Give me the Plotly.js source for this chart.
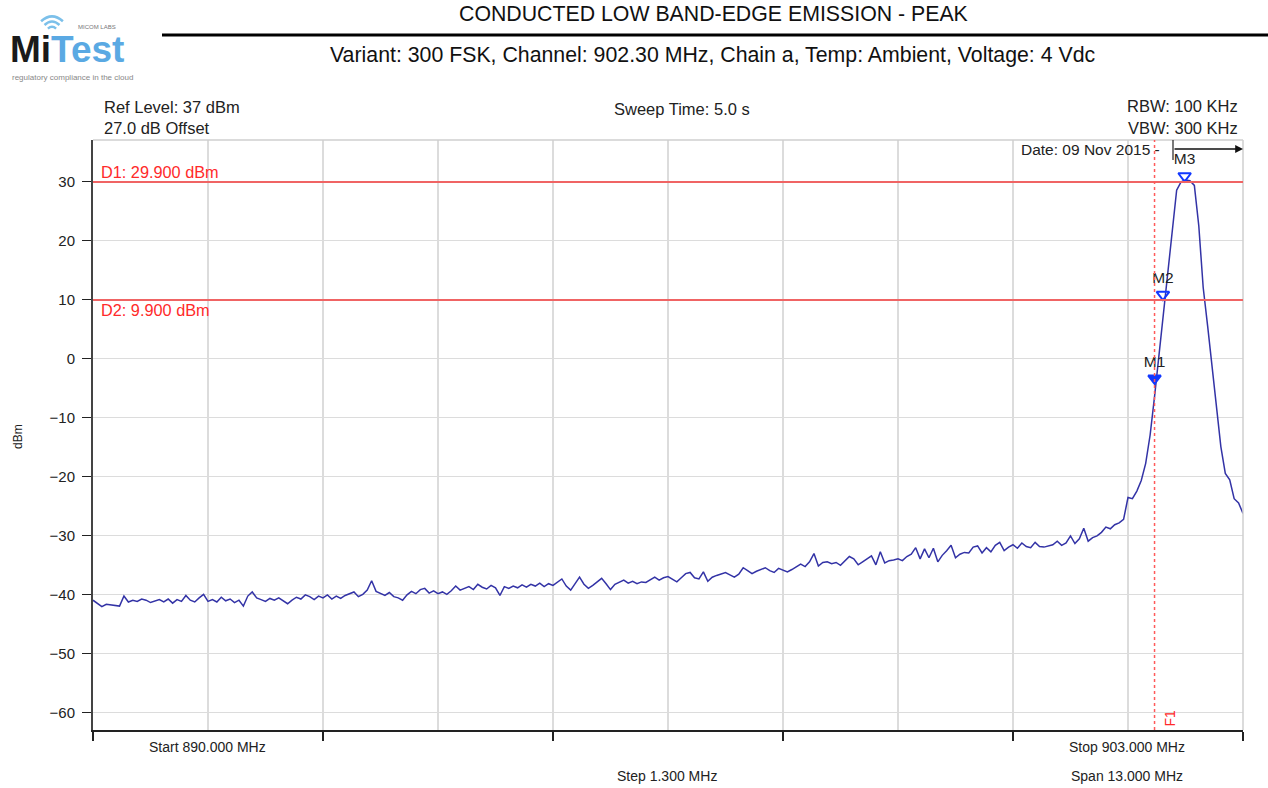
<!DOCTYPE html>
<html>
<head>
<meta charset="utf-8">
<script src="https://cdn.plot.ly/plotly-3.0.1.min.js"></script>
<style>
html,body{margin:0;padding:0;background:#fff;}
#chart{width:1268px;height:788px;}
</style>
</head>
<body>
<div id="chart"></div>
<script>
// ---------------- DATA ----------------
const sweepStartMHz = 890.0;
const sweepStopMHz = 903.0;
// measured trace levels (dBm), equally spaced over the sweep
const traceLevels = [
-41.0,-41.6,-42.1,-41.7,-41.8,-41.9,-42.0,-40.3,-41.3,-41.0,
-41.2,-40.8,-41.0,-41.4,-41.1,-40.9,-41.3,-40.8,-41.5,-40.9,
-41.2,-40.2,-41.0,-41.3,-40.6,-40.0,-41.2,-40.9,-41.3,-40.5,
-41.1,-40.8,-41.4,-41.0,-42.0,-40.3,-39.6,-40.6,-40.9,-41.2,
-40.7,-41.0,-40.6,-41.1,-41.6,-41.0,-40.5,-40.8,-40.1,-40.4,
-40.9,-40.3,-40.6,-40.1,-40.8,-40.3,-40.7,-40.2,-39.9,-39.6,
-40.4,-40.0,-39.3,-37.7,-39.5,-39.9,-40.2,-39.7,-40.4,-40.6,
-41.0,-40.1,-39.5,-39.9,-39.2,-39.0,-39.8,-39.4,-39.9,-39.6,
-40.0,-39.4,-38.6,-39.3,-39.0,-38.7,-39.2,-38.3,-38.8,-39.1,
-38.5,-38.9,-40.2,-38.7,-39.0,-38.6,-38.9,-38.4,-38.8,-38.3,
-38.6,-38.1,-38.7,-38.2,-38.5,-38.0,-37.4,-38.6,-39.3,-38.2,
-37.1,-38.3,-39.0,-38.5,-37.9,-37.3,-38.2,-39.2,-38.3,-37.9,
-37.6,-38.1,-37.8,-38.2,-37.9,-38.0,-37.5,-37.1,-37.6,-37.2,
-37.0,-37.5,-37.9,-37.2,-36.5,-36.3,-37.2,-37.4,-36.2,-37.8,
-37.1,-36.8,-36.6,-36.3,-36.7,-37.1,-36.6,-35.5,-36.0,-36.5,
-36.1,-35.8,-35.5,-36.0,-36.3,-35.6,-35.9,-36.2,-35.8,-35.4,
-34.9,-35.3,-34.5,-33.1,-35.2,-34.6,-34.5,-34.8,-34.6,-35.1,
-34.3,-33.6,-34.0,-35.0,-34.5,-34.0,-33.5,-35.0,-32.8,-34.7,
-34.3,-34.2,-34.0,-34.3,-33.6,-33.2,-32.1,-34.0,-32.3,-33.8,
-32.2,-34.5,-33.4,-32.6,-31.7,-33.8,-33.2,-32.9,-33.0,-32.0,
-31.8,-33.0,-32.1,-32.8,-31.7,-31.2,-32.6,-32.0,-31.6,-32.2,
-31.3,-31.9,-32.1,-31.2,-31.9,-32.0,-31.8,-31.6,-31.0,-31.7,
-31.3,-30.1,-31.4,-30.6,-28.8,-31.0,-30.4,-30.1,-29.5,-28.6,
-28.9,-28.2,-27.9,-27.3,-23.6,-23.8,-22.5,-20.7,-17.8,-13.0,
-6.5,0.5,7.8,15.0,22.5,28.5,29.9,30.2,30.1,29.3,
22.5,12.0,5.5,-1.5,-8.5,-15.0,-19.5,-20.6,-23.8,-24.5,-26.3
];
const markerNames = ['M1','M2','M3'];
const markerFreqs = [902.0, 902.095, 902.34];
const markerLevels = [-3.4, 10.8, 30.9];
const markerFilled = [true, false, false];
const displayLineNames = ['D1: 29.900 dBm','D2: 9.900 dBm'];
const displayLineLevels = [29.9, 9.9];
const freqLineName = 'F1';
const freqLineMHz = 902.0;
const refLevel = 37;
const bottomLevel = -63;
const stepMHz = 1.3;

// sweep frequency axis of the analyser
const traceFreqs = traceLevels.map((v,i)=> sweepStartMHz + i*(sweepStopMHz-sweepStartMHz)/(traceLevels.length-1));

// ---------------- LAYOUT HELPERS ----------------
const L=93, R=1243, T=140, B=730;
const px = x => (x-L)/(R-L);
const py = y => (B-y)/(B-T);
const FONT = 'Liberation Sans, Arial, sans-serif';
function txt(x,y,text,o){
  o=o||{};
  return Object.assign({xref:'paper',yref:'paper',x:px(x),y:py(y),text:text,showarrow:false,
    xanchor:o.xa||'center',yanchor:'middle',
    font:{family:FONT,size:o.size||14,color:o.color||'#222'}}, o.extra||{});
}

const traces = [
  {x:traceFreqs, y:traceLevels, type:'scatter', mode:'lines',
   line:{color:'#3333a6', width:1.5}, hoverinfo:'x+y', showlegend:false},
  {x:markerFreqs, y:markerLevels, type:'scatter', mode:'markers+text',
   text:markerNames, textposition:'top center',
   textfont:{family:FONT,size:15.5,color:'#222'},
   marker:{symbol:'triangle-down', size:11,
     color:markerFilled.map(f=>f?'#1238ff':'rgba(255,255,255,0)'),
     line:{color:'#1238ff', width:2}},
   showlegend:false, cliponaxis:false}
];

const shapes = [];
// frame top/right
shapes.push({type:'line',xref:'paper',yref:'paper',x0:0,x1:1,y0:1,y1:1,line:{color:'#cfcfcf',width:1.5}});
shapes.push({type:'line',xref:'paper',yref:'paper',x0:1,x1:1,y0:0,y1:1,line:{color:'#cfcfcf',width:1.5}});
// centre graticule line
shapes.push({type:'line',xref:'x',yref:'paper',x0:(sweepStartMHz+sweepStopMHz)/2,x1:(sweepStartMHz+sweepStopMHz)/2,y0:0,y1:1,layer:'below',line:{color:'#a9a9a9',width:1.5}});
// display lines
displayLineLevels.forEach(v=>shapes.push({type:'line',xref:'paper',yref:'y',x0:0,x1:1,y0:v,y1:v,line:{color:'#f06464',width:2}}));
// frequency line
shapes.push({type:'line',xref:'x',yref:'paper',x0:freqLineMHz,x1:freqLineMHz,y0:0,y1:1,line:{color:'#ff5a5a',width:1.5,dash:'dot'}});
// header rule
shapes.push({type:'line',xref:'paper',yref:'paper',x0:px(162),x1:px(1268),y0:py(35),y1:py(35),line:{color:'#000',width:3}});
// date arrow stem
shapes.push({type:'line',xref:'paper',yref:'paper',x0:px(1173),x1:px(1173),y0:py(140),y1:py(160),line:{color:'#222',width:1.2}});
// wifi arcs of logo
[6,11,16].forEach(r=>{
  const cx=52, cy=33;
  const a=0.75;
  const x0=cx-r*Math.sin(a), y0=cy-r*Math.cos(a);
  const x1=cx+r*Math.sin(a);
  const ctrlY = cy - r*1.35;
  shapes.push({type:'path',xref:'paper',yref:'paper',
    path:`M ${px(x0)} ${py(y0)} Q ${px(cx)} ${py(ctrlY)} ${px(x1)} ${py(y0)}`,
    line:{color:'#7cc0ea',width:2.5}});
});

const annotations = [
  txt(713,14,'CONDUCTED LOW BAND-EDGE EMISSION - PEAK',{size:21.3,color:'#111'}),
  txt(713,55,'Variant: 300 FSK, Channel: 902.30 MHz, Chain a, Temp: Ambient, Voltage: 4 Vdc',{size:21.3,color:'#111'}),
  // logo
  txt(8,49,'<b>Mi</b><b><span style="color:#5aa9e3">Test</span></b>',{xa:'left',size:37,color:'#1a1a1a',extra:{font:{family:'Liberation Sans Narrow, Liberation Sans, Arial',size:37,color:'#1a1a1a'}}}),
  txt(97,27,'MICOM LABS',{size:6,color:'#777'}),
  txt(10,77,'regulatory compliance in the cloud',{xa:'left',size:8,color:'#888'}),
  // instrument settings
  txt(102,107,'Ref Level: 37 dBm',{xa:'left',size:16.5}),
  txt(102,128,'27.0 dB Offset',{xa:'left',size:16.5}),
  txt(682,109,'Sweep Time: 5.0 s',{size:16.5}),
  txt(1240,106,'RBW: 100 KHz',{xa:'right',size:16.5}),
  txt(1240,128,'VBW: 300 KHz',{xa:'right',size:16.5}),
  txt(1162,149,'Date: 09 Nov 2015 -',{xa:'right',size:15.5}),
  // display line labels
  {xref:'paper',yref:'y',x:px(99),y:displayLineLevels[0],text:displayLineNames[0],showarrow:false,xanchor:'left',yanchor:'bottom',yshift:-1,font:{family:FONT,size:16.3,color:'#ff2a2a'}},
  {xref:'paper',yref:'y',x:px(99),y:displayLineLevels[1],text:displayLineNames[1],showarrow:false,xanchor:'left',yanchor:'top',yshift:1,font:{family:FONT,size:16.3,color:'#ff2a2a'}},
  // F1 label
  {xref:'x',yref:'paper',x:freqLineMHz,y:py(718),text:freqLineName,showarrow:false,textangle:-90,xshift:15,xanchor:'center',yanchor:'middle',font:{family:FONT,size:14,color:'#ff2a2a'}},
  // date arrow
  {xref:'paper',yref:'paper',x:1,y:py(149),ax:-70,ay:0,text:'',showarrow:true,arrowhead:2,arrowsize:1.2,arrowwidth:1.3,arrowcolor:'#111'},
  // y title
  txt(18,437,'dBm',{size:12,extra:{textangle:-90}}),
  // bottom captions
  txt(207,747,'Start '+sweepStartMHz.toFixed(3)+' MHz',{size:14}),
  txt(1127,747,'Stop '+sweepStopMHz.toFixed(3)+' MHz',{size:14}),
  txt(667,776,'Step '+stepMHz.toFixed(3)+' MHz',{size:14}),
  txt(1127,776,'Span '+(sweepStopMHz-sweepStartMHz).toFixed(3)+' MHz',{size:14})
];

const layout = {
  width:1268, height:788,
  margin:{l:L, r:1268-R, t:T, b:788-B, pad:0},
  paper_bgcolor:'#fff', plot_bgcolor:'#fff',
  font:{family:FONT, size:14, color:'#222'},
  showlegend:false,
  xaxis:{range:[sweepStartMHz, sweepStopMHz], tick0:sweepStartMHz, dtick:stepMHz*2,
    showticklabels:false, ticks:'outside', ticklen:9, tickwidth:1.5, tickcolor:'#222',
    showgrid:true, gridcolor:'#dcdcdc', gridwidth:1.5,
    minor:{tick0:sweepStartMHz, dtick:stepMHz, showgrid:true, gridcolor:'#dcdcdc', gridwidth:1.5, ticks:''},
    showline:true, linecolor:'#222', linewidth:2, zeroline:false, fixedrange:true},
  yaxis:{range:[bottomLevel, refLevel], tick0:0, dtick:10,
    ticks:'outside', ticklen:9, tickwidth:1.5, tickcolor:'#222', ticklabelstandoff:4,
    tickfont:{family:FONT,size:15,color:'#222'},
    showgrid:true, gridcolor:'#dcdcdc', gridwidth:1.5,
    showline:true, linecolor:'#444', linewidth:2, zeroline:false, fixedrange:true},
  shapes:shapes,
  annotations:annotations
};

Plotly.newPlot('chart', traces, layout, {displayModeBar:false, staticPlot:true});
</script>
</body>
</html>
